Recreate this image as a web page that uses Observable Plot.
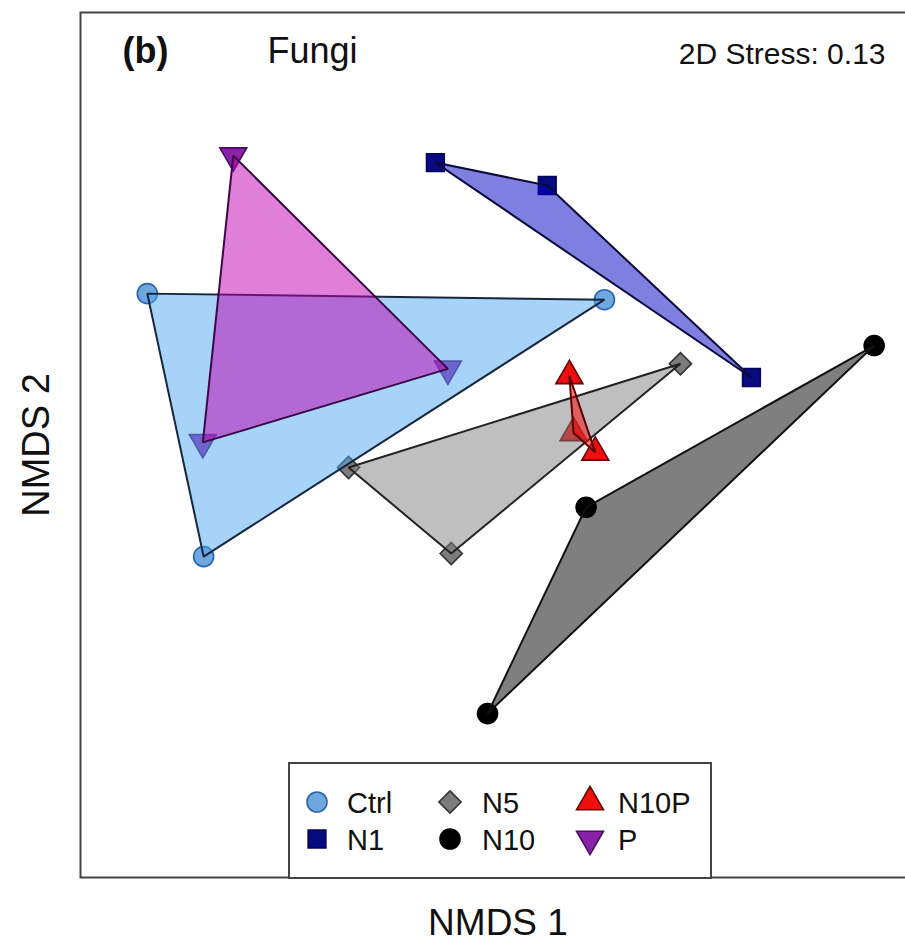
<!DOCTYPE html>
<html>
<head>
<meta charset="utf-8">
<script src="https://cdn.jsdelivr.net/npm/d3@7"></script>
<script src="https://cdn.jsdelivr.net/npm/@observablehq/plot@0.6"></script>
<style>
  html, body { margin: 0; padding: 0; background: #fff; }
  #wrap { position: relative; width: 905px; height: 945px; overflow: hidden; font-family: "Liberation Sans", Arial, sans-serif; }
  #legend { position: absolute; left: 288px; top: 762px; width: 420px; height: 113px; border: 2px solid #444; background: #fff; }
</style>
</head>
<body>
<div id="wrap"><div id="chart"></div><div id="legend"></div></div>
<script>
// ---- data (NMDS scores) ----
const groups = ["Ctrl", "N1", "N5", "N10", "N10P", "P"];
const nmds1 = [
  [-0.840, 0.255, -0.705],   // Ctrl
  [-0.150, 0.118, 0.607],    // N1
  [-0.358, 0.437, -0.112],   // N5
  [0.901, 0.211, -0.025],    // N10
  [0.171, 0.181, 0.233],     // N10P
  [-0.634, -0.120, -0.707]   // P
];
const nmds2 = [
  [0.350, 0.336, -0.258],    // Ctrl
  [0.653, 0.600, 0.156],     // N1
  [-0.052, 0.188, -0.251],   // N5
  [0.230, -0.144, -0.621],   // N10
  [0.160, 0.028, -0.017],    // N10P
  [0.669, 0.176, 0.006]      // P
];
const stressLabel = "2D Stress: 0.13";
const panelLabel = "(b)";
const panelTitle = "Fungi";
const xLabel = "NMDS 1";
const yLabel = "NMDS 2";

// ---- styles ----
const symbolOf = {Ctrl: "circle", N1: "square", N5: "diamond2", N10: "circle", N10P: "triangle", P: "triangle"};
const rotateOf = {Ctrl: 0, N1: 0, N5: 0, N10: 0, N10P: 0, P: 180};
const dotFill = {Ctrl: "#6fa8e0", N1: "#0a0a80", N5: "#7c7c7c", N10: "#000000", N10P: "#ee0f0f", P: "#8a22a8"};
const dotStroke = {Ctrl: "#2a64ad", N1: "#050560", N5: "#333333", N10: "#000000", N10P: "#6a0000", P: "#4a0c66"};
const hullFill = {Ctrl: "#50a8f2", N1: "#0000c4", N5: "#808080", N10: "#000000", N10P: "#ff0000", P: "#c000b0"};
const hullStroke = {Ctrl: "#15263d", N1: "#0a0a3a", N5: "#222222", N10: "#111111", N10P: "#5a0000", P: "#3a0846"};

const rows = [];
groups.forEach((g, i) => nmds1[i].forEach((v, j) => rows.push({group: g, x: v, y: nmds2[i][j]})));

const marks = [];
for (const g of groups) {
  marks.push(Plot.dot(rows.filter(d => d.group === g), {
    x: "x", y: "y", symbol: symbolOf[g], r: 10, rotate: rotateOf[g],
    fill: dotFill[g], stroke: dotStroke[g], strokeWidth: 1.6
  }));
}
for (const g of groups) {
  marks.push(Plot.hull(rows.filter(d => d.group === g), {
    x: "x", y: "y", fill: hullFill[g], fillOpacity: 0.5,
    stroke: hullStroke[g], strokeWidth: 2
  }));
}
marks.push(Plot.frame({stroke: "#444", strokeWidth: 2}));
marks.push(Plot.text([panelLabel], {frameAnchor: "top-left", textAnchor: "start", lineAnchor: "top", dx: 42, dy: 25, fontSize: 36, fontWeight: "bold", fill: "#111"}));
marks.push(Plot.text([panelTitle], {frameAnchor: "top-left", textAnchor: "start", lineAnchor: "top", dx: 187, dy: 25, fontSize: 36, fill: "#111"}));
marks.push(Plot.text([stressLabel], {frameAnchor: "top-right", textAnchor: "end", lineAnchor: "top", dx: -30, dy: 30, fontSize: 30, fill: "#111"}));
marks.push(Plot.text([xLabel], {frameAnchor: "bottom", textAnchor: "middle", lineAnchor: "top", dy: 31, fontSize: 37, fill: "#111"}));
marks.push(Plot.text([yLabel], {frameAnchor: "left", textAnchor: "middle", lineAnchor: "top", rotate: -90, dx: -58, fontSize: 38, fill: "#111"}));

const chart = Plot.plot({
  width: 905,
  height: 945,
  marginTop: 12,
  marginLeft: 80,
  marginRight: -10,
  marginBottom: 68,
  x: {domain: [-1, 1], axis: null},
  y: {domain: [-1, 1], axis: null},
  style: {fontFamily: "Liberation Sans, Arial, sans-serif", background: "#fff"},
  marks
});
document.getElementById("chart").appendChild(chart);

// ---- legend ----
const legend = d3.select("#legend").append("svg").attr("width", 420).attr("height", 113)
  .style("font-family", "Liberation Sans, Arial, sans-serif");
const symMap = {circle: d3.symbolCircle, square: d3.symbolSquare, diamond2: d3.symbolDiamond2, triangle: d3.symbolTriangle};
const colX = [27, 160, 300];
const textX = [57, 192, 328];
const rowY = [38, 75];
groups.forEach((g, i) => {
  const c = Math.floor(i / 2), r = i % 2;
  legend.append("path")
    .attr("d", d3.symbol(symMap[symbolOf[g]], Math.PI * 100)())
    .attr("transform", `translate(${colX[c]},${rowY[r]}) rotate(${rotateOf[g]})`)
    .attr("fill", dotFill[g]).attr("stroke", dotStroke[g]).attr("stroke-width", 1.6);
  legend.append("text")
    .attr("x", textX[c]).attr("y", rowY[r] + 11)
    .attr("font-size", 29).attr("fill", "#111")
    .text(g);
});
</script>
</body>
</html>
